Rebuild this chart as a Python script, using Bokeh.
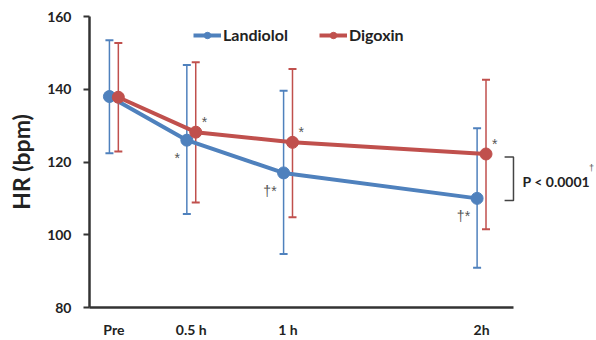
from bokeh.plotting import figure
from bokeh.models import (ColumnDataSource, Whisker, TeeHead, FixedTicker, Legend,
                          LegendItem, Label, Range1d)
from bokeh.transform import dodge
from bokeh.core.properties import value
from bokeh.embed import file_html
from bokeh.resources import INLINE

# ---- data ----
time_labels = ["Pre", "0.5 h", "1 h", "2h"]
time_h = [0.1, 0.5, 1, 2]          # "Pre" sits at about 0.1 h on the reference axis
landiolol_mean = [138.0, 126.0, 117.0, 110.0]
landiolol_upper = [153.5, 146.7, 139.6, 129.3]
landiolol_lower = [122.4, 105.7, 94.7, 90.9]
landiolol_marks = ["", "*", "†*", "†*"]
digoxin_mean = [137.8, 128.2, 125.4, 122.2]
digoxin_upper = [152.7, 147.4, 145.6, 142.6]
digoxin_lower = [122.9, 108.9, 104.8, 101.5]
digoxin_marks = ["", "*", "*", "*"]
p_value_text = "P < 0.0001"
y_ticks = [80, 100, 120, 140, 160]

BLUE = "#4F81BD"
RED = "#C0504D"
FONT = "Lato"
MARK_FONT = "Liberation Sans"
TXT = "#222222"
DODGE = 0.023

p = figure(width=596, height=340, output_backend="svg", toolbar_location=None,
           x_range=Range1d(-0.026, 2.594), y_range=Range1d(80, 160),
           min_border_left=89, min_border_right=0, min_border_top=16,
           min_border_bottom=29)
p.outline_line_color = None
p.grid.grid_line_color = None
p.background_fill_color = "white"
p.border_fill_color = "white"

src_l = ColumnDataSource(dict(t=time_h, mean=landiolol_mean, upper=landiolol_upper,
                              lower=landiolol_lower, marks=landiolol_marks))
src_d = ColumnDataSource(dict(t=time_h, mean=digoxin_mean, upper=digoxin_upper,
                              lower=digoxin_lower, marks=digoxin_marks))

# error bars
for src, col, dv in ((src_l, BLUE, -DODGE), (src_d, RED, DODGE)):
    w = Whisker(source=src, base=dodge("t", dv), upper="upper", lower="lower",
                line_color=col, line_width=1.5,
                upper_head=TeeHead(size=8, line_color=col, line_width=2),
                lower_head=TeeHead(size=8, line_color=col, line_width=2))
    p.add_layout(w)

# lines + markers
bl = p.line(x=dodge("t", -DODGE), y="mean", source=src_l, line_color=BLUE, line_width=4)
bs = p.scatter(x=dodge("t", -DODGE), y="mean", source=src_l, size=12,
               fill_color=BLUE, line_color=BLUE)
rl = p.line(x=dodge("t", DODGE), y="mean", source=src_d, line_color=RED, line_width=4)
rs = p.scatter(x=dodge("t", DODGE), y="mean", source=src_d, size=12,
               fill_color=RED, line_color=RED)

# significance marks
p.text(x=dodge("t", -DODGE), y="mean", text="marks", source=src_l,
       text_align="right", text_baseline="middle", x_offset=-7, y_offset=18,
       text_font=value(MARK_FONT), text_font_size="14px", text_color="#555555")
p.text(x=dodge("t", DODGE), y="mean", text="marks", source=src_d,
       text_align="left", text_baseline="middle", x_offset=6, y_offset=-10,
       text_font=value(MARK_FONT), text_font_size="14px", text_color="#555555")

# bracket between final values
top = digoxin_mean[-1] - 0.8
bot = landiolol_mean[-1] - 0.6
p.multi_line(xs=[[2.119, 2.165, 2.165, 2.119]], ys=[[top, top, bot, bot]],
             line_color="#444444", line_width=1.5)
p.add_layout(Label(x=2.212, y=(top + bot) / 2 - 0.8, text=p_value_text,
                   text_baseline="middle", text_font=FONT, text_font_style="bold",
                   text_font_size="14px", text_color=TXT))
p.add_layout(Label(x=2.555, y=118.3, text="†", text_baseline="middle",
                   text_font=MARK_FONT, text_font_size="9px", text_color="#555555"))

# axes
xa = p.xaxis[0]
xa.ticker = FixedTicker(ticks=time_h)
xa.major_label_overrides = dict(zip(time_h, time_labels))
xa.bounds = (-0.026, 2.165)
xa.major_tick_out = 0
xa.major_tick_in = 0
xa.minor_tick_out = 0
xa.minor_tick_in = 0
xa.major_label_standoff = 13
xa.axis_line_width = 2.5
xa.axis_line_color = "#333333"
xa.major_label_text_font = FONT
xa.major_label_text_font_style = "bold"
xa.major_label_text_font_size = "14px"
xa.major_label_text_color = TXT

ya = p.yaxis[0]
ya.ticker = FixedTicker(ticks=y_ticks)
ya.major_tick_out = 6
ya.major_tick_in = 0
ya.minor_tick_out = 0
ya.minor_tick_in = 0
ya.major_tick_line_width = 2
ya.major_tick_line_color = "#333333"
ya.major_label_standoff = 12
ya.axis_line_width = 2.5
ya.axis_line_color = "#333333"
ya.major_label_text_font = FONT
ya.major_label_text_font_style = "bold"
ya.major_label_text_font_size = "14px"
ya.major_label_text_color = TXT
ya.axis_label = "HR (bpm)"
ya.axis_label_standoff = 9
ya.axis_label_text_font = FONT
ya.axis_label_text_font_style = "bold"
ya.axis_label_text_font_size = "23px"
ya.axis_label_text_color = TXT

legend = Legend(items=[LegendItem(label="Landiolol", renderers=[bl, bs]),
                       LegendItem(label="Digoxin", renderers=[rl, rs])],
                orientation="horizontal", location=(104, 263),
                border_line_alpha=0, background_fill_alpha=0,
                label_text_font=FONT, label_text_font_style="bold",
                label_text_font_size="16px", label_text_color=TXT,
                glyph_width=28, glyph_height=16, spacing=31, padding=0, margin=0,
                label_standoff=2)
p.add_layout(legend)

open("out.html", "w").write(file_html(p, INLINE))
